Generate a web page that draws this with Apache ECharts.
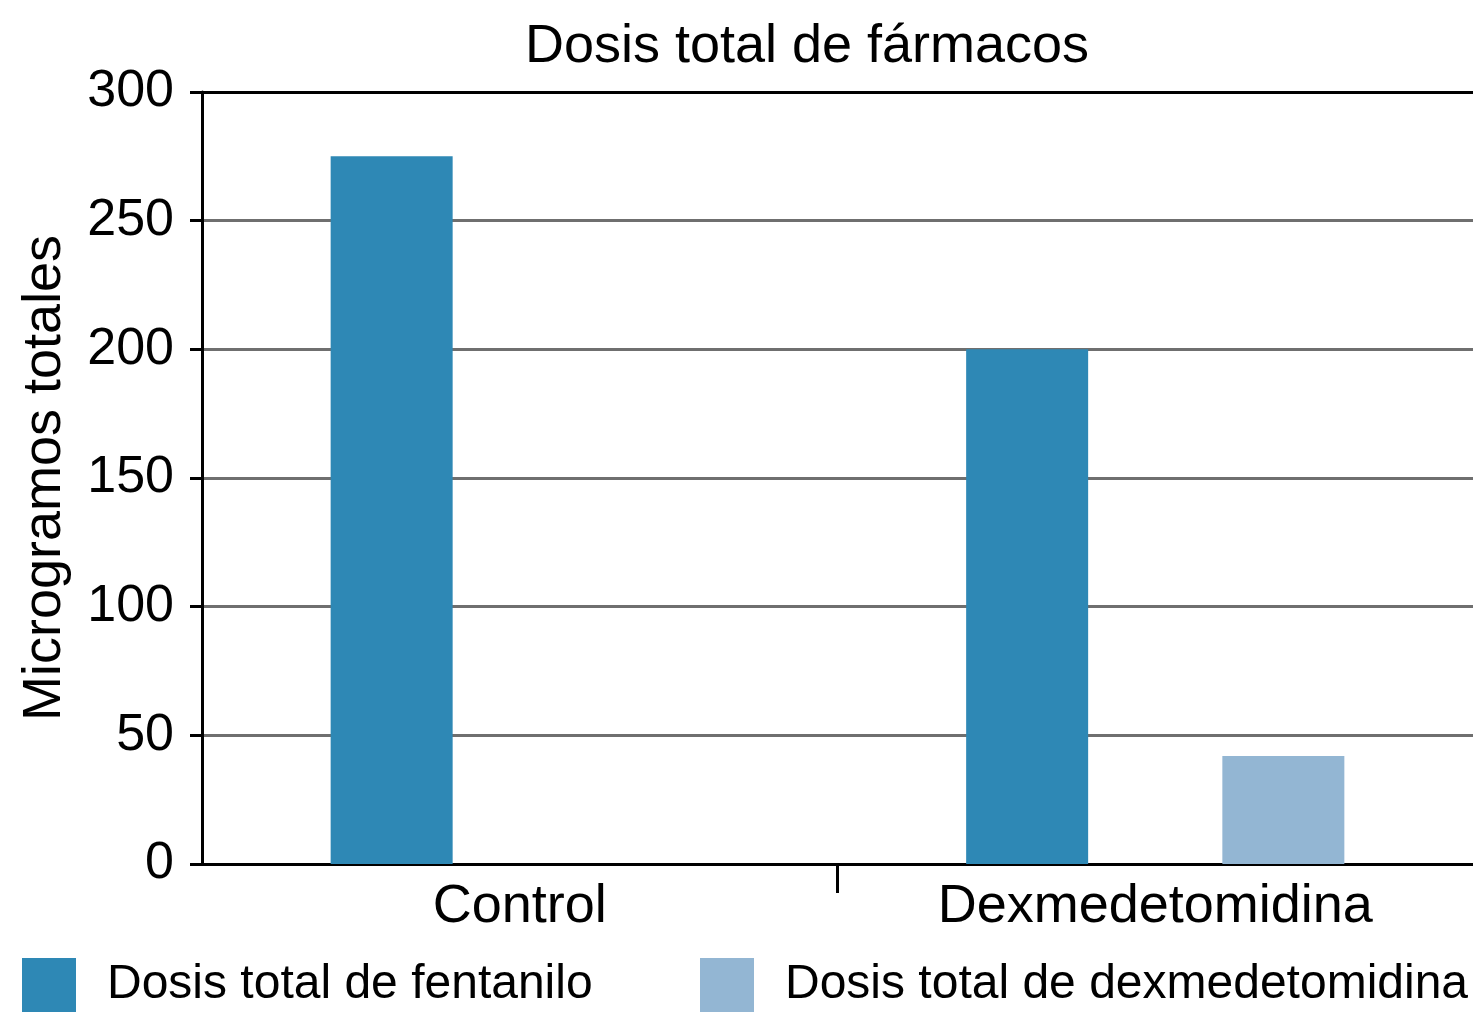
<!DOCTYPE html>
<html>
<head>
<meta charset="utf-8">
<script src="https://cdn.jsdelivr.net/npm/echarts@6/dist/echarts.min.js"></script>
<style>html,body{margin:0;padding:0;background:#fff}#c{width:1473px;height:1024px}</style>
</head>
<body>
<div id="c"></div>
<script>
const categories = ['Control', 'Dexmedetomidina'];
const fentanilo = [275, 200];
const dexmedetomidina = [null, 42];
const seriesNames = ['Dosis total de fentanilo', 'Dosis total de dexmedetomidina'];
const yTicks = { min: 0, max: 300, interval: 50 };

const FONT = '"Liberation Sans", Arial, sans-serif';
const GRID = '#6f6f6f';
const chart = echarts.init(document.getElementById('c'));
chart.setOption({
  animation: false,
  backgroundColor: '#fff',
  title: {
    text: 'Dosis total de fármacos',
    left: 807, top: 20, textAlign: 'center', padding: 0,
    textStyle: { fontFamily: FONT, fontSize: 54, fontWeight: 'normal', color: '#000' }
  },
  legend: [
    {
      data: [seriesNames[0]], left: 22, top: 958, padding: 0, itemWidth: 54, itemHeight: 54,
      icon: 'rect',
      textStyle: { fontFamily: FONT, fontSize: 48, color: '#000', padding: [4, 0, 0, 26] }
    },
    {
      data: [seriesNames[1]], left: 700, top: 958, padding: 0, itemWidth: 54, itemHeight: 54,
      icon: 'rect',
      textStyle: { fontFamily: FONT, fontSize: 48, color: '#000', padding: [4, 0, 0, 26] }
    }
  ],
  grid: { left: 202, right: 0, top: 92, bottom: 160, containLabel: false },
  xAxis: [
    {
      type: 'category', data: categories,
      axisLine: { lineStyle: { color: '#000', width: 3 } },
      axisTick: { show: false },
      axisLabel: { fontFamily: FONT, fontSize: 54, color: '#000', margin: 16 }
    },
    {
      type: 'value', min: 0, max: 2, position: 'bottom',
      axisLine: { show: false },
      axisLabel: { show: false },
      splitLine: { show: false },
      axisTick: { show: true, length: 29, customValues: [1], lineStyle: { color: '#000', width: 3 } }
    }
  ],
  yAxis: {
    type: 'value', min: yTicks.min, max: yTicks.max, interval: yTicks.interval,
    name: 'Microgramos totales', nameLocation: 'middle', nameGap: 130, nameRotate: 90,
    nameTextStyle: { fontFamily: FONT, fontSize: 54, color: '#000' },
    axisLine: { show: true, lineStyle: { color: '#000', width: 3 } },
    axisTick: { show: true, length: 12, lineStyle: { color: [GRID, GRID, GRID, GRID, GRID, GRID, '#000'], width: 3 } },
    axisLabel: { fontFamily: FONT, fontSize: 52, color: '#000', margin: 28 },
    splitLine: { show: true, lineStyle: { color: [GRID, GRID, GRID, GRID, GRID, GRID, '#000'], width: 3 } }
  },
  series: [
    { name: seriesNames[0], type: 'bar', xAxisIndex: 0, data: fentanilo, barWidth: 122, barGap: '110%', itemStyle: { color: '#2e88b5' } },
    { name: seriesNames[1], type: 'bar', xAxisIndex: 0, data: dexmedetomidina, barWidth: 122, itemStyle: { color: '#93b6d3' } }
  ]
});
</script>
</body>
</html>
